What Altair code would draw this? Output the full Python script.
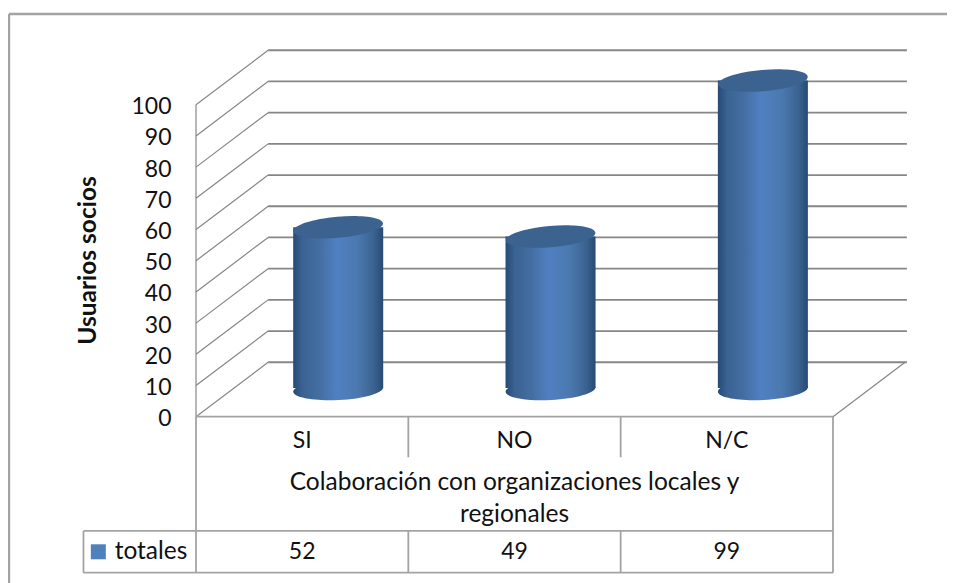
import altair as alt
import pandas as pd

# ---- chart values ----
categories = ["SI", "NO", "N/C"]
totales = [52, 49, 99]
ticks = [0, 10, 20, 30, 40, 50, 60, 70, 80, 90, 100]
y_title = "Usuarios socios"
x_title_lines = ["Colaboración con organizaciones locales y", "regionales"]
series_name = "totales"

# ---- layout constants, in axis units ----
DX, DY = 0.3395, 17.45      # 3-D depth of the box
BACK_END = 3.348
R = 0.212                   # cylinder radius
XDOM = [0, 751 / 212.33]
YDOM = [-53.3, 131]
FONT = "Lato"
FS = 24.5
FS_NUM = 23
GRID = "#868686"
FRAME = "#a3a3a3"
TXT = "#111111"

xs = alt.Scale(domain=XDOM, nice=False, zero=False)
ys = alt.Scale(domain=YDOM, nice=False, zero=False)
y_axis = alt.Axis(
    values=ticks, ticks=False, domain=False, grid=False, title=y_title,
    labelFont=FONT, labelFontSize=FS_NUM, labelColor=TXT, labelPadding=25, labelOffset=2,
    titleFont=FONT, titleFontSize=24.5, titleFontWeight="bold", titleColor=TXT,
    titleX=-108, titleY=252, titleAngle=270, titleAlign="center", titleBaseline="middle")
X = lambda f: alt.X(f"{f}:Q", scale=xs, axis=None)
Y = lambda f: alt.Y(f"{f}:Q", scale=ys, axis=y_axis)


def seg(rows, color, width):
    df = pd.DataFrame(rows, columns=["x", "x2", "y", "y2"])
    return alt.Chart(df).mark_rule(color=color, strokeWidth=width).encode(
        x=X("x"), x2="x2:Q", y=Y("y"), y2="y2:Q")


def txt(rows, size=FS, align="center", weight="normal"):
    df = pd.DataFrame(rows, columns=["x", "y", "t"])
    return alt.Chart(df).mark_text(font=FONT, fontSize=size, color=TXT, align=align,
                                   baseline="middle", fontWeight=weight).encode(
        x=X("x"), y=Y("y"), text="t:N")


top_v = max(ticks)
diag = seg([[0, DX, v, v + DY] for v in ticks] + [[3, 3 + DX, 0, DY]], GRID, 1.2)
back = seg([[DX, BACK_END, v + DY, v + DY] for v in ticks], GRID, 1.8)
wall = seg([[0, 0, 0, top_v]], GRID, 1.2)

# frame and data table
FR_L = -187 / 212.33
FR_T = 129.1
ROW1 = -13
ROW2 = -36.6
ROW3 = -50
KEY_L = -0.53
frame = seg([[FR_L, XDOM[1], FR_T, FR_T], [FR_L, FR_L, FR_T, YDOM[0]]], FRAME, 2.4)
table = seg(
    [[0, 3, 0, 0], [KEY_L, 3, ROW2, ROW2], [KEY_L, 3, ROW3, ROW3],
     [KEY_L, KEY_L, ROW2, ROW3], [0, 0, 0, ROW3], [3, 3, 0, ROW3],
     [1, 1, 0, ROW1], [2, 2, 0, ROW1], [1, 1, ROW2, ROW3], [2, 2, ROW2, ROW3]],
    FRAME, 1.8)

# cylinders
body_grad = alt.Gradient(
    gradient="linear", x1=0, x2=1, y1=0, y2=0,
    stops=[alt.GradientStop(offset=0, color="#264a75"),
           alt.GradientStop(offset=0.1, color="#3a6292"),
           alt.GradientStop(offset=0.3, color="#456fa3"),
           alt.GradientStop(offset=0.48, color="#5080c2"),
           alt.GradientStop(offset=0.72, color="#4a78ae"),
           alt.GradientStop(offset=0.9, color="#3a6290"),
           alt.GradientStop(offset=1, color="#264a72")])
cyl = pd.DataFrame({"cat": categories, "v": totales})
cyl["c"] = [i + 0.5 + DX / 2 for i in range(len(categories))]
cyl["l"] = cyl["c"] - R
cyl["r"] = cyl["c"] + R
cyl["base"] = DY / 2
cyl["base_top"] = DY / 2 + 0.5
cyl["topv"] = cyl["v"] + DY / 2

ELLIPSE = "M-1,0A1,0.235 0 1,1 1,0A1,0.235 0 1,1 -1,0Z"
ESIZE = (2 * 45) ** 2


def ell(field, fill, angle):
    return alt.Chart(cyl).mark_point(
        shape=ELLIPSE, filled=True, fill=fill, stroke=None, opacity=1,
        size=ESIZE, angle=angle).encode(x=X("c"), y=Y(field))


bottom = ell("base", body_grad, 357)
body = alt.Chart(cyl).mark_rect(fill=body_grad, stroke=None).encode(
    x=X("l"), x2="r:Q", y=Y("base_top"), y2="topv:Q")
top = ell("topv", "#3c6290", 355)

# table text
cat_text = txt([[i + 0.5, -7.8, c] for i, c in enumerate(categories)], size=23)
title_text = txt([[1.5, -21.3, x_title_lines[0]], [1.5, -31.6, x_title_lines[1]]])
val_text = txt([[i + 0.5, -43.3, str(v)] for i, v in enumerate(totales)], size=FS_NUM)
name_text = txt([[-0.383, -43.3, series_name]], align="left")
key = alt.Chart(pd.DataFrame({"x": [-0.46], "y": [-43.3]})).mark_square(
    color="#4f81bd", size=225, opacity=1, filled=True, stroke=None).encode(x=X("x"), y=Y("y"))

chart = alt.layer(
    frame, back, diag, wall, bottom, body, top, table,
    cat_text, title_text, val_text, name_text, key,
).properties(
    width=751, height=575,
    padding={"left": 188, "top": 0, "right": 0, "bottom": 0},
    autosize=alt.AutoSizeParams(type="none"),
    background="white",
).configure_view(stroke=None)

chart.save("out.html", embed_options={"renderer": "svg", "actions": False})
